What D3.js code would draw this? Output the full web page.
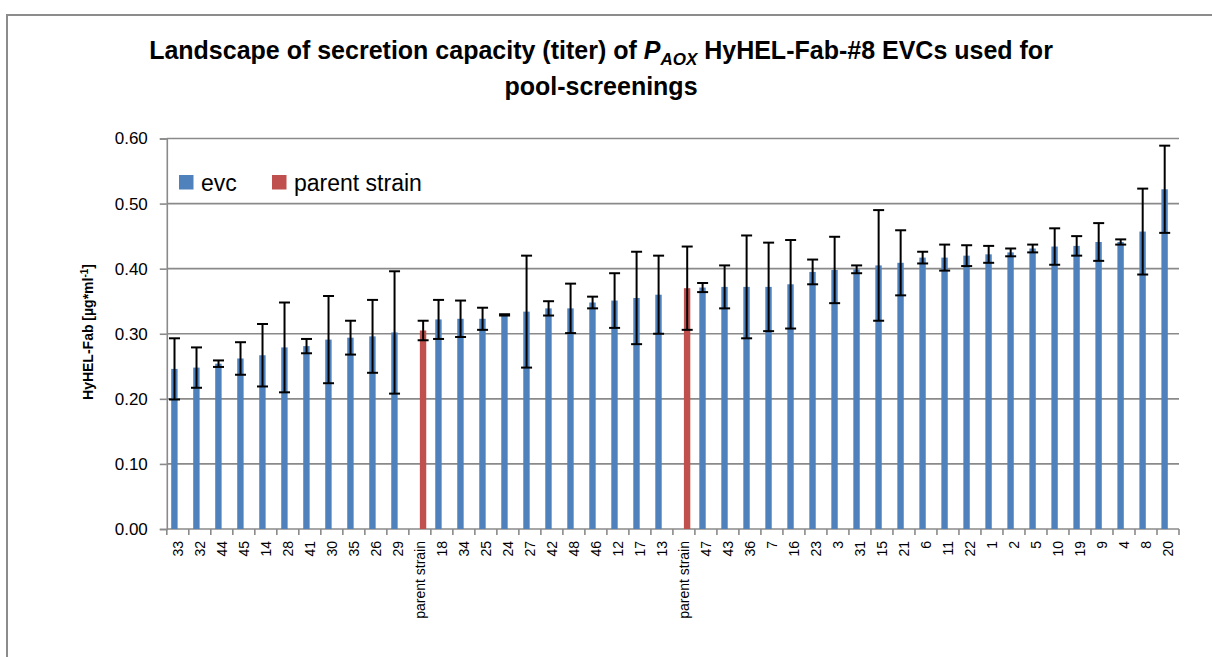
<!DOCTYPE html>
<html>
<head>
<meta charset="utf-8">
<script src="https://cdn.jsdelivr.net/npm/d3@7"></script>
<style>
  body { margin: 0; background: #fff; }
  text { font-family: "Liberation Sans", Arial, sans-serif; fill: #000; }
</style>
</head>
<body>
<div id="chart"></div>
<script>
// EVC clones sorted by titer, parent strain measured twice
var categories = ["33", "32", "44", "45", "14", "28", "41", "30", "35", "26", "29", "parent strain",
  "18", "34", "25", "24", "27", "42", "48", "46", "12", "17", "13", "parent strain",
  "47", "43", "36", "7", "16", "23", "3", "31", "15", "21", "6", "11", "22", "1", "2", "5",
  "10", "19", "9", "4", "8", "20"];

var titer = [0.246, 0.248, 0.254, 0.262, 0.267, 0.279, 0.281, 0.291, 0.294, 0.296, 0.302, 0.305,
  0.322, 0.323, 0.323, 0.329, 0.334, 0.339, 0.339, 0.348, 0.351, 0.355, 0.360, 0.370,
  0.371, 0.372, 0.372, 0.372, 0.376, 0.395, 0.398, 0.399, 0.405, 0.409, 0.417, 0.417, 0.420, 0.422, 0.425, 0.431,
  0.434, 0.435, 0.441, 0.441, 0.457, 0.522];

var titerSd = [0.047, 0.031, 0.005, 0.025, 0.048, 0.069, 0.011, 0.067, 0.026, 0.056, 0.094, 0.015,
  0.030, 0.028, 0.017, 0.001, 0.086, 0.011, 0.038, 0.009, 0.042, 0.071, 0.060, 0.064,
  0.007, 0.033, 0.079, 0.068, 0.068, 0.019, 0.051, 0.006, 0.085, 0.050, 0.009, 0.020, 0.016, 0.013, 0.006, 0.006,
  0.028, 0.015, 0.029, 0.004, 0.066, 0.067];

var seriesNames = ["evc", "parent strain"];
var seriesColors = ["#4F81BD", "#C0504D"];
var yTicks = [0, 0.1, 0.2, 0.3, 0.4, 0.5, 0.6];

var w = 1212, h = 657;
var plot = {left: 166.8, right: 1179, top: 138.5, bottom: 529};

var svg = d3.select("#chart").append("svg")
  .attr("width", w).attr("height", h);

// chart frame (only top and left edges are in view)
svg.append("path")
  .attr("d", "M7,657V15H1212")
  .attr("style", "fill:none; stroke:#8c8c8c; stroke-width:2");

var data = categories.map(function(c, i) {
  return {key: i, label: c, series: c === "parent strain" ? 1 : 0, value: titer[i], sd: titerSd[i]};
});

var x = d3.scaleBand().domain(d3.range(categories.length))
  .range([plot.left, plot.right]).paddingInner(0).paddingOuter(0);
var bw = x.bandwidth();
var xs = d3.scaleBand().domain(d3.range(seriesNames.length))
  .range([bw / 2 - 6.6, bw / 2 + 6.6]);
var y = d3.scaleLinear().domain([0, 0.6]).range([plot.bottom, plot.top]);

// gridlines
svg.append("g").selectAll("line").data(yTicks.slice(1)).enter().append("line")
  .attr("x1", plot.left).attr("x2", plot.right)
  .attr("y1", function(d) { return y(d); }).attr("y2", function(d) { return y(d); })
  .attr("style", "stroke:#8a8a8a; stroke-width:1.6");

// y axis
var yAxis = d3.axisLeft(y).tickValues(yTicks).tickFormat(d3.format(".2f")).tickSize(7).tickPadding(12);
var gy = svg.append("g").attr("transform", "translate(" + plot.left + ",0)").call(yAxis);
gy.select(".domain").attr("stroke", "#8a8a8a").attr("stroke-width", 1.6);
gy.selectAll(".tick line").attr("stroke", "#8a8a8a").attr("stroke-width", 1.6);
gy.selectAll(".tick text").attr("font-size", 17).attr("font-family", "Liberation Sans, Arial, sans-serif");

// x axis: ticks on category boundaries
var gx = svg.append("g");
gx.append("line")
  .attr("x1", plot.left).attr("x2", plot.right).attr("y1", plot.bottom).attr("y2", plot.bottom)
  .attr("style", "stroke:#8a8a8a; stroke-width:1.6");
gx.selectAll("line.tick").data(d3.range(categories.length + 1)).enter().append("line")
  .attr("class", "tick")
  .attr("x1", function(i) { return plot.left + i * bw; })
  .attr("x2", function(i) { return plot.left + i * bw; })
  .attr("y1", plot.bottom).attr("y2", plot.bottom + 6)
  .attr("style", "stroke:#8a8a8a; stroke-width:1.6");
gx.selectAll("text").data(data).enter().append("text")
  .attr("transform", function(d) {
    return "translate(" + (x(d.key) + bw / 2 + 5) + "," + (plot.bottom + 12) + ") rotate(-90)";
  })
  .attr("text-anchor", "end")
  .attr("font-size", 14)
  .text(function(d) { return d.label; });

// bars
svg.append("g").selectAll("rect").data(data).enter().append("rect")
  .attr("x", function(d) { return x(d.key) + xs(d.series); })
  .attr("width", xs.bandwidth() - 0.2)
  .attr("y", function(d) { return y(d.value); })
  .attr("height", function(d) { return y(0) - y(d.value); })
  .attr("fill", function(d) { return seriesColors[d.series]; });

// error bars
var eb = svg.append("g").selectAll("g").data(data).enter().append("g")
  .attr("transform", function(d) {
    return "translate(" + (x(d.key) + xs(d.series) + xs.bandwidth() / 2) + ",0)";
  })
  .attr("style", "stroke:#000; stroke-width:2");
eb.append("line")
  .attr("y1", function(d) { return y(d.value + d.sd); })
  .attr("y2", function(d) { return y(d.value - d.sd); });
eb.append("line").attr("x1", -5.5).attr("x2", 5.5)
  .attr("y1", function(d) { return y(d.value + d.sd); })
  .attr("y2", function(d) { return y(d.value + d.sd); });
eb.append("line").attr("x1", -5.5).attr("x2", 5.5)
  .attr("y1", function(d) { return y(d.value - d.sd); })
  .attr("y2", function(d) { return y(d.value - d.sd); });

// legend
var legend = svg.append("g").selectAll("g").data(seriesNames).enter().append("g")
  .attr("transform", function(d, i) { return "translate(" + [179, 272][i] + ",175)"; });
legend.append("rect").attr("width", 14.5).attr("height", 14.5)
  .attr("fill", function(d, i) { return seriesColors[i]; });
legend.append("text").attr("x", 22).attr("y", 15.5)
  .attr("font-size", 23)
  .text(function(d) { return d; });

// y axis title
var yt = svg.append("text")
  .attr("transform", "translate(93,332) rotate(-90)")
  .attr("text-anchor", "middle")
  .attr("font-size", 14).attr("font-weight", "bold");
yt.append("tspan").text("HyHEL-Fab [µg*ml");
yt.append("tspan").attr("dy", -5).attr("font-size", 10).text("-1");
yt.append("tspan").attr("dy", 5).text("]");

// title
var t1 = svg.append("text").attr("x", 601).attr("y", 59)
  .attr("text-anchor", "middle").attr("font-size", 25).attr("font-weight", "bold");
t1.append("tspan").text("Landscape of secretion capacity (titer) of ");
t1.append("tspan").attr("font-style", "italic").text("P");
t1.append("tspan").attr("font-style", "italic").attr("font-size", 17).attr("dy", 6).text("AOX");
t1.append("tspan").attr("dy", -6).text(" HyHEL-Fab-#8 EVCs used for");
svg.append("text").attr("x", 601).attr("y", 95)
  .attr("text-anchor", "middle").attr("font-size", 25).attr("font-weight", "bold")
  .text("pool-screenings");
</script>
</body>
</html>
